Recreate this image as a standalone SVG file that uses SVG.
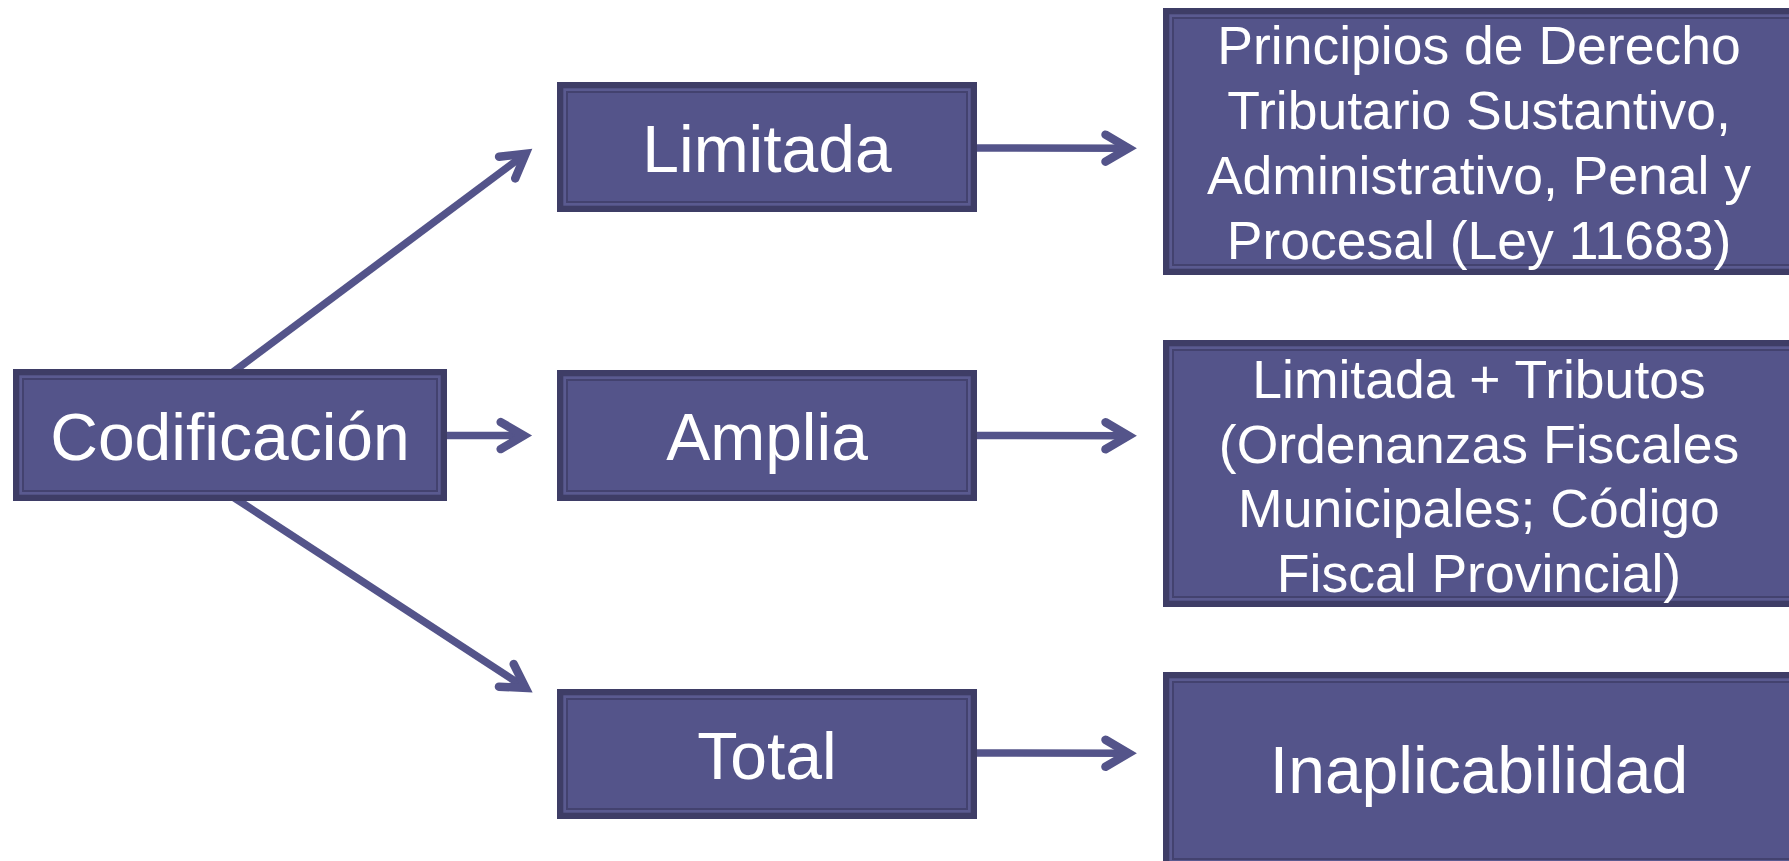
<svg xmlns="http://www.w3.org/2000/svg" width="1789" height="861" viewBox="0 0 1789 861">
<style>
.outer{fill:#3e3d66}
.band{fill:#5a5a90}
.inner{fill:#54548a;stroke:#43426f;stroke-width:2}
.big{font-family:"Liberation Sans",Arial,sans-serif;font-size:66px;fill:#ffffff;text-anchor:middle}
.small{font-family:"Liberation Sans",Arial,sans-serif;font-size:53.5px;fill:#ffffff;text-anchor:middle}
.conn{stroke:#54548a;stroke-width:7.5;fill:none;marker-end:url(#chev)}
</style>
<defs>
<marker id="chev" markerUnits="userSpaceOnUse" orient="auto" refX="0" refY="0" markerWidth="60" markerHeight="60" overflow="visible">
<path d="M -23 -13.5 L 0 0 L -23 13.5" fill="none" stroke="#54548a" stroke-width="8.5" stroke-linecap="round" stroke-linejoin="miter" stroke-miterlimit="10"/>
</marker>
</defs>
<rect width="1789" height="861" fill="#ffffff"/>

<g id="connectors">
<line class="conn" x1="231.7" y1="373" x2="525.6" y2="153.8"/>
<line class="conn" x1="443" y1="435.5" x2="523.7" y2="435.6"/>
<line class="conn" x1="233" y1="497" x2="525.6" y2="687.9"/>
<line class="conn" x1="972" y1="148" x2="1128.5" y2="148.2"/>
<line class="conn" x1="972" y1="435.5" x2="1128.5" y2="435.8"/>
<line class="conn" x1="972" y1="753" x2="1128.5" y2="753.3"/>
</g>

<g id="codificacion">
<rect class="outer" x="13" y="369" width="434" height="132"/>
<rect class="band" x="19.3" y="375.3" width="421.4" height="119.4"/>
<rect class="inner" x="23" y="379" width="414" height="112"/>
<text class="big" x="230" y="460">Codificación</text>
</g>

<g id="limitada">
<rect class="outer" x="557" y="82" width="420" height="130"/>
<rect class="band" x="563.3" y="88.3" width="407.4" height="117.4"/>
<rect class="inner" x="567" y="92" width="400" height="110"/>
<text class="big" x="767" y="172">Limitada</text>
</g>

<g id="amplia">
<rect class="outer" x="557" y="370" width="420" height="131"/>
<rect class="band" x="563.3" y="376.3" width="407.4" height="118.4"/>
<rect class="inner" x="567" y="380" width="400" height="111"/>
<text class="big" x="767" y="460">Amplia</text>
</g>

<g id="total">
<rect class="outer" x="557" y="689" width="420" height="130"/>
<rect class="band" x="563.3" y="695.3" width="407.4" height="117.4"/>
<rect class="inner" x="567" y="699" width="400" height="110"/>
<text class="big" x="767" y="779">Total</text>
</g>

<g id="principios">
<rect class="outer" x="1163" y="8" width="640" height="267"/>
<rect class="band" x="1169.3" y="14.3" width="627.4" height="254.4"/>
<rect class="inner" x="1173" y="18" width="620" height="247"/>
<text class="small" x="1479" y="64">Principios de Derecho</text>
<text class="small" x="1479" y="129">Tributario Sustantivo,</text>
<text class="small" x="1479" y="194">Administrativo, Penal y</text>
<text class="small" x="1479" y="259">Procesal (Ley 11683)</text>
</g>

<g id="tributos">
<rect class="outer" x="1163" y="340" width="640" height="267"/>
<rect class="band" x="1169.3" y="346.3" width="627.4" height="254.4"/>
<rect class="inner" x="1173" y="350" width="620" height="247"/>
<text class="small" x="1479" y="398">Limitada + Tributos</text>
<text class="small" x="1479" y="463">(Ordenanzas Fiscales</text>
<text class="small" x="1479" y="527">Municipales; Código</text>
<text class="small" x="1479" y="592">Fiscal Provincial)</text>
</g>

<g id="inaplicabilidad">
<rect class="outer" x="1163" y="672" width="640" height="200"/>
<rect class="band" x="1169.3" y="678.3" width="627.4" height="187.4"/>
<rect class="inner" x="1173" y="682" width="620" height="177"/>
<text class="big" x="1479" y="793">Inaplicabilidad</text>
</g>
</svg>
